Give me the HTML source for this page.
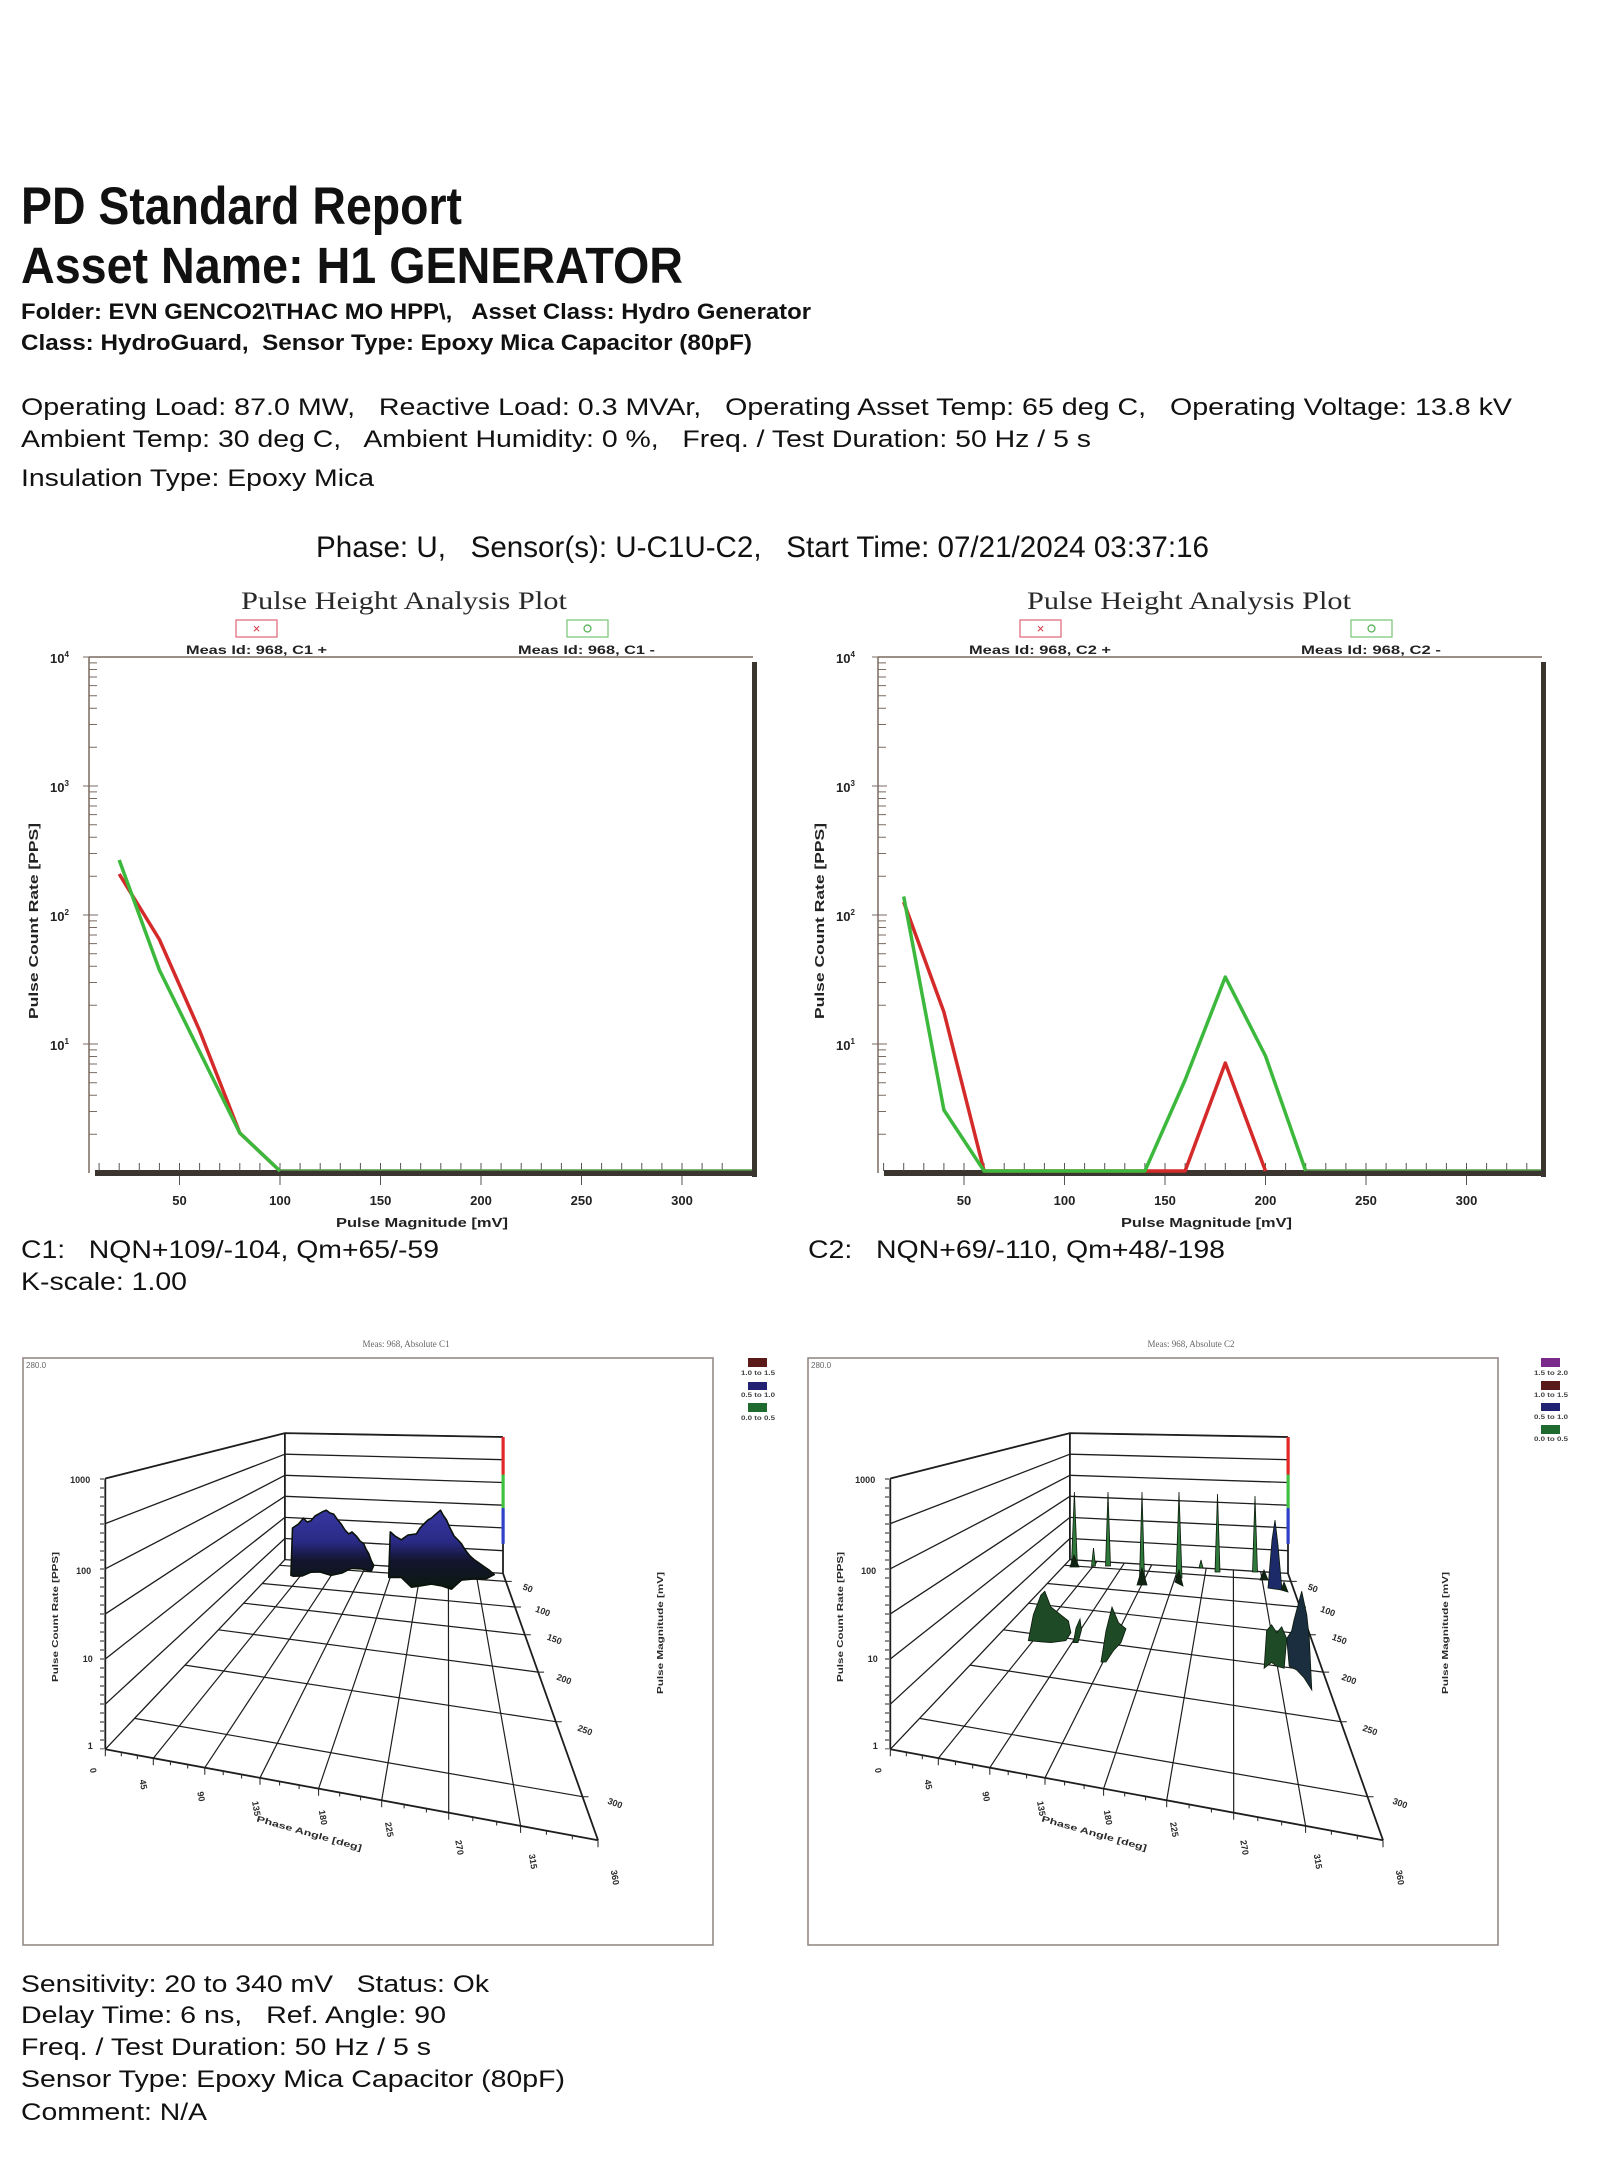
<!DOCTYPE html>
<html><head><meta charset="utf-8"><style>html,body{margin:0;padding:0;background:#fff}svg{display:block}text{white-space:pre}</style></head>
<body>
<svg xmlns="http://www.w3.org/2000/svg" xml:space="preserve" width="1607" height="2160" viewBox="0 0 1607 2160">
<defs>
<linearGradient id="blob" gradientUnits="userSpaceOnUse" x1="0" y1="1508" x2="0" y2="1592">
<stop offset="0" stop-color="#3838a4"/><stop offset="0.4" stop-color="#2a2a86"/><stop offset="0.62" stop-color="#131530"/><stop offset="1" stop-color="#0a1a0c"/>
</linearGradient>
<g id="grid3d" fill="none" stroke="#1e1e1e">
<path stroke-width="1.3" d="M105.3,1478.5L284.9,1433.1M105.3,1523.6L284.9,1454.2M105.3,1568.8L284.9,1475.3M105.3,1613.9L284.9,1496.3M105.3,1659L284.9,1517.4M105.3,1704.2L284.9,1538.5M105.3,1749.3L284.9,1559.6"/>
<path stroke-width="1.3" d="M284.9,1433.1L503,1437M284.9,1454.2L503,1459.7M284.9,1475.3L503,1482.5M284.9,1496.3L503,1505.2M284.9,1517.4L503,1527.9M284.9,1538.5L503,1550.7M284.9,1559.6L503,1573.4"/>
<path stroke-width="1.8" d="M105.3,1478.5V1749.3M284.9,1433.1V1559.6M503,1437V1573.4M503,1573.4L598,1840.2M105.3,1749.3L598,1840.2M105.3,1478.5L284.9,1433.1L503,1437"/>
<path stroke-width="1.2" d="M279.5,1565.3L505.8,1581.4M262.3,1583.5L515,1607M243.6,1603.2L524.8,1634.8M218.4,1629.8L538.1,1672.1M185,1665.1L555.8,1721.7M134.6,1718.4L582.5,1796.7"/>
<path stroke-width="1.2" d="M312.2,1561.3L153.3,1758.2M339.4,1563.1L204.8,1767.7M366.7,1564.8L260,1777.8M393.9,1566.5L318.6,1788.7M421.2,1568.2L381.7,1800.3M448.4,1570L448.7,1812.7M475.7,1571.7L520.6,1825.9"/>
<path stroke-width="1" d="M105.3,1749.3v7M153.3,1758.2v7M204.8,1767.7v7M260,1777.8v7M318.6,1788.7v7M381.7,1800.3v7M448.7,1812.7v7M520.6,1825.9v7M598,1840.2v7M121.3,1752.3v4M137.3,1755.2v4M170.4,1761.3v4M187.7,1764.5v4M223.2,1771.1v4M241.6,1774.5v4M279.6,1781.5v4M299.1,1785.1v4M339.7,1792.5v4M360.6,1796.4v4M404.1,1804.4v4M426.4,1808.5v4M472.8,1817.1v4M496.7,1821.5v4M546.4,1830.7v4M572.3,1835.4v4"/>
<path stroke-width="1" d="M505.8,1581.4h6M515,1607h6M524.8,1634.8h6M538.1,1672.1h6M555.8,1721.7h6M582.5,1796.7h6"/>
<path stroke-width="4" stroke-dasharray="1 8" d="M102,1478.5V1749.3"/>
</g>
</defs>
<rect width="1607" height="2160" fill="#fff"/>

<g font-family="'Liberation Sans', Arial, sans-serif" fill="#111">
<text x="21" y="224" font-size="53" font-weight="bold" textLength="441" lengthAdjust="spacingAndGlyphs">PD Standard Report</text>
<text x="21" y="283" font-size="51" font-weight="bold" textLength="662" lengthAdjust="spacingAndGlyphs">Asset Name: H1 GENERATOR</text>
<text x="21" y="319" font-size="22" font-weight="bold" textLength="790" lengthAdjust="spacingAndGlyphs">Folder: EVN GENCO2\THAC MO HPP\,   Asset Class: Hydro Generator</text>
<text x="21" y="350" font-size="22" font-weight="bold" textLength="731" lengthAdjust="spacingAndGlyphs">Class: HydroGuard,  Sensor Type: Epoxy Mica Capacitor (80pF)</text>
<text x="21" y="415" font-size="24" textLength="1491" lengthAdjust="spacingAndGlyphs">Operating Load: 87.0 MW,   Reactive Load: 0.3 MVAr,   Operating Asset Temp: 65 deg C,   Operating Voltage: 13.8 kV</text>
<text x="21" y="447" font-size="24" textLength="1070" lengthAdjust="spacingAndGlyphs">Ambient Temp: 30 deg C,   Ambient Humidity: 0 %,   Freq. / Test Duration: 50 Hz / 5 s</text>
<text x="21" y="486" font-size="24" textLength="353" lengthAdjust="spacingAndGlyphs">Insulation Type: Epoxy Mica</text>
<text x="316" y="557" font-size="30" textLength="893" lengthAdjust="spacingAndGlyphs">Phase: U,   Sensor(s): U-C1U-C2,   Start Time: 07/21/2024 03:37:16</text>

<text x="21" y="1258" font-size="25" textLength="418" lengthAdjust="spacingAndGlyphs">C1:   NQN+109/-104, Qm+65/-59</text>
<text x="21" y="1290" font-size="25" textLength="166" lengthAdjust="spacingAndGlyphs">K-scale: 1.00</text>
<text x="808" y="1258" font-size="25" textLength="417" lengthAdjust="spacingAndGlyphs">C2:   NQN+69/-110, Qm+48/-198</text>

<text x="21" y="1992" font-size="24.5" textLength="468" lengthAdjust="spacingAndGlyphs">Sensitivity: 20 to 340 mV   Status: Ok</text>
<text x="21" y="2023" font-size="24.5" textLength="425" lengthAdjust="spacingAndGlyphs">Delay Time: 6 ns,   Ref. Angle: 90</text>
<text x="21" y="2055" font-size="24.5" textLength="410" lengthAdjust="spacingAndGlyphs">Freq. / Test Duration: 50 Hz / 5 s</text>
<text x="21" y="2087" font-size="24.5" textLength="544" lengthAdjust="spacingAndGlyphs">Sensor Type: Epoxy Mica Capacitor (80pF)</text>
<text x="21" y="2120" font-size="24.5" textLength="186" lengthAdjust="spacingAndGlyphs">Comment: N/A</text>
</g>

<!-- ============ PHA LEFT ============ -->
<g>
<text x="241" y="609" font-family="'Liberation Serif', 'Times New Roman', serif" font-size="25" fill="#2a2a2a" textLength="326" lengthAdjust="spacingAndGlyphs">Pulse Height Analysis Plot</text>
<rect x="236" y="620" width="41" height="17" fill="none" stroke="#e07080" stroke-width="1.3"/>
<text x="256.5" y="633" font-family="'Liberation Sans', sans-serif" font-size="13" fill="#d03040" text-anchor="middle">×</text>
<rect x="567" y="620" width="41" height="17" fill="none" stroke="#80c880" stroke-width="1.3"/>
<circle cx="587.5" cy="628.5" r="3.5" fill="none" stroke="#50b050" stroke-width="1.2"/>
<g font-family="'Liberation Sans', Arial, sans-serif" font-weight="bold" fill="#222">
<text x="186" y="654" font-size="12" textLength="141" lengthAdjust="spacingAndGlyphs">Meas Id: 968, C1 +</text>
<text x="518" y="654" font-size="12" textLength="137" lengthAdjust="spacingAndGlyphs">Meas Id: 968, C1 -</text>
<text x="50" y="663" font-size="13">10<tspan font-size="8" dy="-6">4</tspan></text>
<text x="50" y="792" font-size="13">10<tspan font-size="8" dy="-6">3</tspan></text>
<text x="50" y="921" font-size="13">10<tspan font-size="8" dy="-6">2</tspan></text>
<text x="50" y="1050" font-size="13">10<tspan font-size="8" dy="-6">1</tspan></text>
<text transform="translate(38,921) rotate(-90)" font-size="12.5" text-anchor="middle" textLength="196" lengthAdjust="spacingAndGlyphs">Pulse Count Rate [PPS]</text>
<g font-size="13" text-anchor="middle">
<text x="179.5" y="1205">50</text><text x="280" y="1205">100</text><text x="380.5" y="1205">150</text><text x="481" y="1205">200</text><text x="581.5" y="1205">250</text><text x="682" y="1205">300</text>
</g>
<text x="336" y="1227" font-size="12.5" textLength="172" lengthAdjust="spacingAndGlyphs">Pulse Magnitude [mV]</text>
</g>
</g>

<g id="phaframe">
<path d="M89,657H753M89,657V1173" stroke="#7a6a60" stroke-width="1.5" fill="none"/>
<rect x="752" y="662" width="5" height="515" fill="#3b3530"/>
<rect x="95" y="1170" width="662" height="6" fill="#3b3530"/>
<path fill="none" stroke="#7a6a60" stroke-width="1" d="M89,1134.2h8M89,1111.5h8M89,1095.3h8M89,1082.8h8M89,1072.6h8M89,1064h8M89,1056.5h8M89,1049.9h8M89,1005.2h8M89,982.5h8M89,966.3h8M89,953.8h8M89,943.6h8M89,935h8M89,927.5h8M89,920.9h8M89,876.2h8M89,853.5h8M89,837.3h8M89,824.8h8M89,814.6h8M89,806h8M89,798.5h8M89,791.9h8M89,747.2h8M89,724.5h8M89,708.3h8M89,695.8h8M89,685.6h8M89,677h8M89,669.5h8M89,662.9h8M83,1044h15M83,915h15M83,786h15M83,657h15"/>
</g>
<use href="#phaframe" transform="translate(789,0)"/>

<path fill="none" stroke="#555" stroke-width="1" d="M99.1,1171v-8m20.1,8v-8m20.1,8v-8m20.1,8v-8m20.1,8v-8m20.1,8v-8m20.1,8v-8m20.1,8v-8m20.1,8v-8m20.1,8v-8m20.1,8v-8m20.1,8v-8m20.1,8v-8m20.1,8v-8m20.1,8v-8m20.1,8v-8m20.1,8v-8m20.1,8v-8m20.1,8v-8m20.1,8v-8m20.1,8v-8m20.1,8v-8m20.1,8v-8m20.1,8v-8m20.1,8v-8m20.1,8v-8m20.1,8v-8m20.1,8v-8m20.1,8v-8m20.1,8v-8m20.1,8v-8m20.1,8v-8"/>
<path fill="none" stroke="#555" stroke-width="1" d="M179.5,1176v9M280,1176v9M380.5,1176v9M481,1176v9M581.5,1176v9M682,1176v9"/>
<path fill="none" stroke="#555" stroke-width="1" d="M883.6,1171v-8m20.1,8v-8m20.1,8v-8m20.1,8v-8m20.1,8v-8m20.1,8v-8m20.1,8v-8m20.1,8v-8m20.1,8v-8m20.1,8v-8m20.1,8v-8m20.1,8v-8m20.1,8v-8m20.1,8v-8m20.1,8v-8m20.1,8v-8m20.1,8v-8m20.1,8v-8m20.1,8v-8m20.1,8v-8m20.1,8v-8m20.1,8v-8m20.1,8v-8m20.1,8v-8m20.1,8v-8m20.1,8v-8m20.1,8v-8m20.1,8v-8m20.1,8v-8m20.1,8v-8m20.1,8v-8m20.1,8v-8m20.1,8v-8"/>
<path fill="none" stroke="#555" stroke-width="1" d="M964,1176v9M1064.5,1176v9M1165,1176v9M1265.5,1176v9M1366,1176v9M1466.5,1176v9"/>

<polyline fill="none" stroke="#d42a2a" stroke-width="3.5" stroke-linejoin="round" points="119.2,874 159.4,939.5 199.6,1030.6 239.8,1133 280,1171"/>
<polyline fill="none" stroke="#3cb83c" stroke-width="3.5" stroke-linejoin="round" points="119.2,860 159.4,970 199.6,1051.6 239.8,1133 280,1171"/>
<line x1="280" y1="1170" x2="752" y2="1170" stroke="#5a9a4a" stroke-width="1.5"/>

<!-- ============ PHA RIGHT ============ -->
<g>
<text x="1027" y="609" font-family="'Liberation Serif', 'Times New Roman', serif" font-size="25" fill="#2a2a2a" textLength="324" lengthAdjust="spacingAndGlyphs">Pulse Height Analysis Plot</text>
<rect x="1020" y="620" width="41" height="17" fill="none" stroke="#e07080" stroke-width="1.3"/>
<text x="1040.5" y="633" font-family="'Liberation Sans', sans-serif" font-size="13" fill="#d03040" text-anchor="middle">×</text>
<rect x="1351" y="620" width="41" height="17" fill="none" stroke="#80c880" stroke-width="1.3"/>
<circle cx="1371.5" cy="628.5" r="3.5" fill="none" stroke="#50b050" stroke-width="1.2"/>
<g font-family="'Liberation Sans', Arial, sans-serif" font-weight="bold" fill="#222">
<text x="969" y="654" font-size="12" textLength="142" lengthAdjust="spacingAndGlyphs">Meas Id: 968, C2 +</text>
<text x="1301" y="654" font-size="12" textLength="140" lengthAdjust="spacingAndGlyphs">Meas Id: 968, C2 -</text>
<text x="836" y="663" font-size="13">10<tspan font-size="8" dy="-6">4</tspan></text>
<text x="836" y="792" font-size="13">10<tspan font-size="8" dy="-6">3</tspan></text>
<text x="836" y="921" font-size="13">10<tspan font-size="8" dy="-6">2</tspan></text>
<text x="836" y="1050" font-size="13">10<tspan font-size="8" dy="-6">1</tspan></text>
<text transform="translate(824,921) rotate(-90)" font-size="12.5" text-anchor="middle" textLength="196" lengthAdjust="spacingAndGlyphs">Pulse Count Rate [PPS]</text>
<g font-size="13" text-anchor="middle">
<text x="964" y="1205">50</text><text x="1064.5" y="1205">100</text><text x="1165" y="1205">150</text><text x="1265.5" y="1205">200</text><text x="1366" y="1205">250</text><text x="1466.5" y="1205">300</text>
</g>
<text x="1121" y="1227" font-size="12.5" textLength="171" lengthAdjust="spacingAndGlyphs">Pulse Magnitude [mV]</text>
</g>
</g>
<polyline fill="none" stroke="#d42a2a" stroke-width="3.5" stroke-linejoin="round" points="903.7,902 943.9,1012 984.1,1171 1185.1,1171 1225.3,1063 1265.5,1171"/>
<polyline fill="none" stroke="#3cb83c" stroke-width="3.5" stroke-linejoin="round" points="903.7,896.5 943.9,1110 984.1,1171 1144.9,1171 1185.1,1080 1225.3,977 1265.5,1056 1305.7,1171"/>
<line x1="1305" y1="1170" x2="1541" y2="1170" stroke="#5a9a4a" stroke-width="1.5"/>

<!-- ============ 3D LEFT ============ -->
<rect x="23" y="1358" width="690" height="587" fill="none" stroke="#958a85" stroke-width="1.6"/>
<use href="#grid3d"/>
<rect x="501.5" y="1437" width="3.2" height="37.6" fill="#e02828"/>
<rect x="501.5" y="1474.6" width="3.2" height="33.6" fill="#40c040"/>
<rect x="501.5" y="1508.2" width="3.2" height="35.6" fill="#3040c8"/>
<polygon fill="url(#blob)" stroke="#0a120a" stroke-width="1.6" stroke-linejoin="round" points="290.9,1575.4 292.5,1528 298.5,1524 303.5,1518.1 307,1522 311,1520.8 315,1516 318.5,1514.1 322,1512 326.1,1510.2 330,1513 333.6,1514.1 337,1519 341.1,1524 345,1530 348.7,1533.9 352,1532 356.2,1535.9 360,1541 363.7,1543.8 366,1549 368.7,1553.7 371,1560 373.7,1565.5 371.2,1571.4 362,1569 351.2,1568.3 342,1573 331.1,1575.4 320,1572 311,1572.2 302,1576 293.5,1576.2"/>
<polygon fill="url(#blob)" stroke="#0a120a" stroke-width="1.6" stroke-linejoin="round" points="388.8,1573.4 390.3,1531.9 395,1536 401.3,1539.8 408,1535 416.4,1533.9 420,1528 423.9,1524 428,1520 431.4,1518.1 436,1514 440.5,1510.2 443,1515 446.5,1520 450,1528 454,1535.9 458,1540 461.5,1543.8 464,1548 466.6,1551.7 470,1556 474.1,1559.6 479,1563 484.1,1566.7 489,1570 494.2,1574.6 486.6,1578.6 474,1579 461.5,1580.1 456,1585 451.5,1589.2 442,1586 431.4,1584.1 420,1586 411.4,1587.2 405,1581 401.3,1577.4 388.8,1577.4"/>
<g font-family="'Liberation Sans', Arial, sans-serif" font-weight="bold" fill="#2a2a2a" font-size="9">
<text x="406" y="1347" font-family="'Liberation Serif', serif" font-weight="normal" font-size="9" fill="#666" text-anchor="middle">Meas: 968, Absolute C1</text>
<text x="26" y="1368" font-size="8" font-weight="normal" fill="#666">280.0</text>
<text x="80.2" y="1483" text-anchor="middle">1000</text>
<text x="83.7" y="1574" text-anchor="middle">100</text>
<text x="87.7" y="1662" text-anchor="middle">10</text>
<text x="90.2" y="1749" text-anchor="middle">1</text>
<text transform="translate(58,1617) rotate(-90)" text-anchor="middle" font-size="8.5" textLength="130" lengthAdjust="spacingAndGlyphs">Pulse Count Rate [PPS]</text>
<text transform="translate(663,1633) rotate(-90)" text-anchor="middle" font-size="8.5" textLength="122" lengthAdjust="spacingAndGlyphs">Pulse Magnitude [mV]</text>
<text transform="translate(526.8,1591) rotate(20)" text-anchor="middle">50</text>
<text transform="translate(541.8,1614) rotate(20)" text-anchor="middle">100</text>
<text transform="translate(553.4,1642) rotate(20)" text-anchor="middle">150</text>
<text transform="translate(563,1682) rotate(20)" text-anchor="middle">200</text>
<text transform="translate(584,1733) rotate(20)" text-anchor="middle">250</text>
<text transform="translate(614,1806) rotate(20)" text-anchor="middle">300</text>
<text transform="translate(90.2,1771) rotate(80)" text-anchor="middle">0</text>
<text transform="translate(140.4,1785) rotate(80)" text-anchor="middle">45</text>
<text transform="translate(198.1,1797) rotate(80)" text-anchor="middle">90</text>
<text transform="translate(253.3,1809) rotate(80)" text-anchor="middle">135</text>
<text transform="translate(320.1,1818) rotate(80)" text-anchor="middle">180</text>
<text transform="translate(386.3,1830) rotate(80)" text-anchor="middle">225</text>
<text transform="translate(456.5,1848) rotate(80)" text-anchor="middle">270</text>
<text transform="translate(530,1862) rotate(80)" text-anchor="middle">315</text>
<text transform="translate(612,1878) rotate(80)" text-anchor="middle">360</text>
<text transform="translate(308.5,1836) rotate(15.7)" text-anchor="middle" font-size="8.5" textLength="109" lengthAdjust="spacingAndGlyphs">Phase Angle [deg]</text>
</g>
<rect x="748" y="1358" width="19" height="9" fill="#5a1a1a"/>
<rect x="748" y="1382" width="19" height="8" fill="#222272"/>
<rect x="748" y="1403" width="19" height="9" fill="#1f6a2f"/>
<g font-family="'Liberation Sans', Arial, sans-serif" font-weight="bold" font-size="6" fill="#444" text-anchor="middle">
<text x="758" y="1375" textLength="34" lengthAdjust="spacingAndGlyphs">1.0 to 1.5</text>
<text x="758" y="1397" textLength="34" lengthAdjust="spacingAndGlyphs">0.5 to 1.0</text>
<text x="758" y="1420" textLength="34" lengthAdjust="spacingAndGlyphs">0.0 to 0.5</text>
</g>

<!-- ============ 3D RIGHT ============ -->
<rect x="808" y="1358" width="690" height="587" fill="none" stroke="#958a85" stroke-width="1.6"/>
<use href="#grid3d" transform="translate(785,0)"/>
<rect x="1286.5" y="1437" width="3.2" height="37.6" fill="#e02828"/>
<rect x="1286.5" y="1474.6" width="3.2" height="33.6" fill="#40c040"/>
<rect x="1286.5" y="1508.2" width="3.2" height="35.6" fill="#3040c8"/>
<g fill="#2f7a3a" stroke="#0c1a0c" stroke-width="0.8">
<polygon points="1071.4,1566 1074.4,1492 1077.4,1566"/>
<polygon points="1091.5,1566 1093.5,1548 1095.5,1566"/>
<polygon points="1105.5,1566 1108,1492 1110.5,1566"/>
<polygon points="1139.5,1578 1142,1492 1144.5,1578"/>
<polygon points="1176,1578 1179,1492 1182,1578"/>
<polygon points="1199,1568 1201,1560 1203,1568"/>
<polygon points="1215,1572 1217.5,1494 1220,1572"/>
<polygon points="1252.5,1572 1255,1496 1257.5,1572"/>
<polygon fill="#1c2a6a" points="1268,1588 1272,1540 1275,1520 1278,1545 1282,1590"/>
<polygon fill="#0f2412" points="1070,1567 1074,1555 1079,1567"/>
<polygon fill="#0f2412" points="1137,1585 1142,1568 1147,1585"/>
<polygon fill="#0f2412" points="1175,1582 1179,1570 1183,1586"/>
<polygon fill="#0f2412" points="1260,1580 1264,1570 1268,1580"/>
<polygon fill="#0f2412" points="1281,1590 1284,1582 1288,1592"/>
<polygon fill="#1e4a26" points="1028.3,1640.6 1033.3,1614.9 1040.8,1595.2 1044.8,1591.2 1050.9,1607 1060.9,1614.9 1068.4,1620.9 1070.9,1632.7 1065.9,1640.6 1050.9,1642.6 1040.8,1641.8"/>
<polygon fill="#1e4a26" points="1073.4,1642.6 1076,1628 1080,1619 1081.5,1630 1078,1642.6"/>
<polygon fill="#1e4a26" points="1101,1662 1106,1630.7 1112,1607 1118.6,1622.8 1126,1628.8 1121,1642.6 1113.6,1650.5 1106,1662"/>
<polygon fill="#1a2e40" points="1286.7,1638.6 1291.7,1630.7 1294,1620 1301.7,1591.2 1306.8,1614.9 1309.3,1638.6 1311.8,1690 1304.2,1678 1296.7,1670 1289.2,1666.3"/>
<polygon fill="#1e4a26" points="1264.1,1668.3 1266.6,1630.7 1271.6,1624.8 1276.7,1632.7 1281.7,1626.8 1286.7,1638.6 1284.2,1668.3 1276.7,1666.3 1271.6,1662.4"/>
</g>
<g font-family="'Liberation Sans', Arial, sans-serif" font-weight="bold" fill="#2a2a2a" font-size="9">
<text x="1191" y="1347" font-family="'Liberation Serif', serif" font-weight="normal" font-size="9" fill="#666" text-anchor="middle">Meas: 968, Absolute C2</text>
<text x="811" y="1368" font-size="8" font-weight="normal" fill="#666">280.0</text>
<text x="865.2" y="1483" text-anchor="middle">1000</text>
<text x="868.7" y="1574" text-anchor="middle">100</text>
<text x="872.7" y="1662" text-anchor="middle">10</text>
<text x="875.2" y="1749" text-anchor="middle">1</text>
<text transform="translate(843,1617) rotate(-90)" text-anchor="middle" font-size="8.5" textLength="130" lengthAdjust="spacingAndGlyphs">Pulse Count Rate [PPS]</text>
<text transform="translate(1448,1633) rotate(-90)" text-anchor="middle" font-size="8.5" textLength="122" lengthAdjust="spacingAndGlyphs">Pulse Magnitude [mV]</text>
<text transform="translate(1311.8,1591) rotate(20)" text-anchor="middle">50</text>
<text transform="translate(1326.8,1614) rotate(20)" text-anchor="middle">100</text>
<text transform="translate(1338.4,1642) rotate(20)" text-anchor="middle">150</text>
<text transform="translate(1348,1682) rotate(20)" text-anchor="middle">200</text>
<text transform="translate(1369,1733) rotate(20)" text-anchor="middle">250</text>
<text transform="translate(1399,1806) rotate(20)" text-anchor="middle">300</text>
<text transform="translate(875.2,1771) rotate(80)" text-anchor="middle">0</text>
<text transform="translate(925.4,1785) rotate(80)" text-anchor="middle">45</text>
<text transform="translate(983.1,1797) rotate(80)" text-anchor="middle">90</text>
<text transform="translate(1038.3,1809) rotate(80)" text-anchor="middle">135</text>
<text transform="translate(1105.1,1818) rotate(80)" text-anchor="middle">180</text>
<text transform="translate(1171.3,1830) rotate(80)" text-anchor="middle">225</text>
<text transform="translate(1241.5,1848) rotate(80)" text-anchor="middle">270</text>
<text transform="translate(1315,1862) rotate(80)" text-anchor="middle">315</text>
<text transform="translate(1397,1878) rotate(80)" text-anchor="middle">360</text>
<text transform="translate(1093.5,1836) rotate(15.7)" text-anchor="middle" font-size="8.5" textLength="109" lengthAdjust="spacingAndGlyphs">Phase Angle [deg]</text>
</g>
<rect x="1541" y="1358" width="19" height="9" fill="#7a2a8a"/>
<rect x="1541" y="1381" width="19" height="9" fill="#5a1a1a"/>
<rect x="1541" y="1403" width="19" height="8" fill="#222272"/>
<rect x="1541" y="1425" width="19" height="9" fill="#1f6a2f"/>
<g font-family="'Liberation Sans', Arial, sans-serif" font-weight="bold" font-size="6" fill="#444" text-anchor="middle">
<text x="1551" y="1375" textLength="34" lengthAdjust="spacingAndGlyphs">1.5 to 2.0</text>
<text x="1551" y="1397" textLength="34" lengthAdjust="spacingAndGlyphs">1.0 to 1.5</text>
<text x="1551" y="1419" textLength="34" lengthAdjust="spacingAndGlyphs">0.5 to 1.0</text>
<text x="1551" y="1441" textLength="34" lengthAdjust="spacingAndGlyphs">0.0 to 0.5</text>
</g>
</svg>
</body></html>
